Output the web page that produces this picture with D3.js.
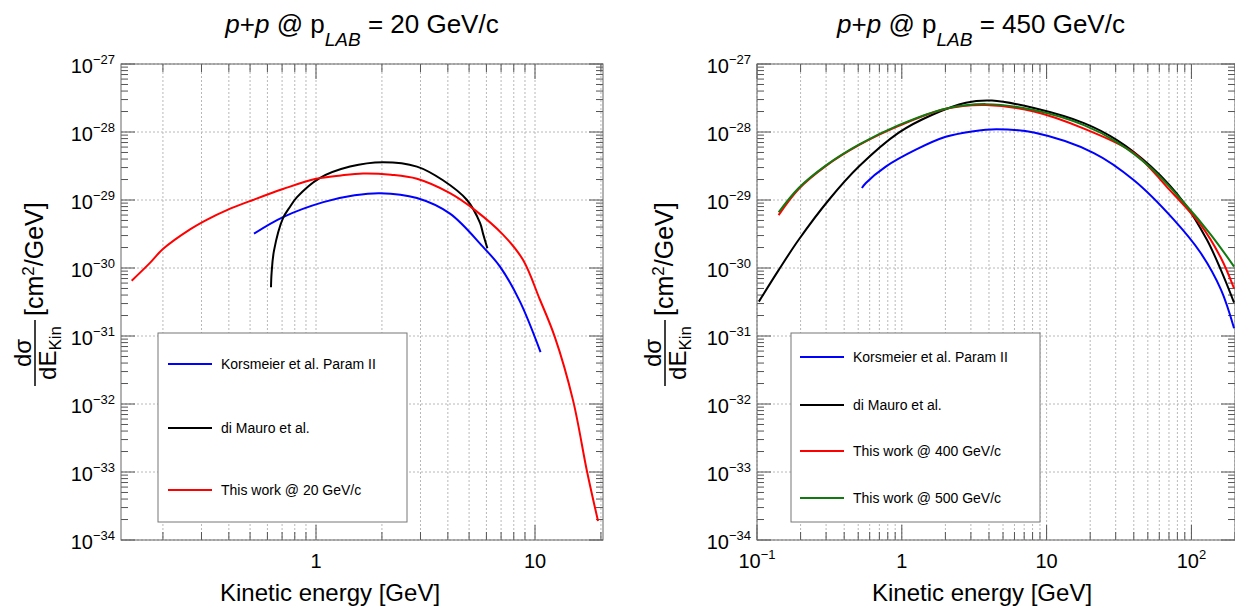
<!DOCTYPE html>
<html>
<head>
<meta charset="utf-8">
<script src="https://cdn.jsdelivr.net/npm/d3@7"></script>
<style>
body { margin: 0; background: #fff; }
text { font-family: "Liberation Sans", Arial, Helvetica, sans-serif; fill: #000; }
</style>
</head>
<body>
<div id="chart"></div>
<script>
// ---- data (kinetic energy in GeV, d sigma / dE in cm^2/GeV)
// p+p @ 20 GeV/c
var ekinKors20 = [0.521, 0.707, 1.08, 1.5, 1.96, 2.89, 4.09, 5.79, 6.92, 8.54, 10.6];
var xsKors20   = [3.2e-30, 5.6e-30, 9.3e-30, 1.17e-29, 1.26e-29, 1.07e-29, 6.3e-30, 2.04e-30, 1.05e-30, 3.2e-31, 5.8e-32];
var ekinMauro20 = [0.623, 0.627, 0.643, 0.707, 0.76, 0.819, 1.04, 1.43, 2.02, 2.89, 3.80, 4.89, 5.61, 5.79, 6.06];
var xsMauro20   = [5.2e-31, 8.5e-31, 1.8e-30, 5.4e-30, 7.9e-30, 1.1e-29, 2.1e-29, 3.1e-29, 3.6e-29, 3.1e-29, 1.95e-29, 1.0e-29, 4.6e-30, 3.2e-30, 1.95e-30];
var ekinWork20 = [0.144, 0.175, 0.2, 0.266, 0.32, 0.392, 0.515, 0.707, 1.0, 1.3, 1.64, 2.2, 2.89, 4.09, 5.32, 7.14, 8.81, 10.5, 12.3, 14.9, 17.3, 19.4];
var xsWork20   = [6.5e-31, 1.2e-30, 1.9e-30, 3.7e-30, 5.2e-30, 7.1e-30, 1.0e-29, 1.45e-29, 2.05e-29, 2.3e-29, 2.45e-29, 2.35e-29, 2.05e-29, 1.26e-29, 7.1e-30, 3.1e-30, 1.32e-30, 3.5e-31, 9.8e-32, 1.15e-32, 1.0e-33, 1.9e-34];

// p+p @ 450 GeV/c
var ekinKors450 = [0.530, 0.565, 0.775, 1.25, 2.01, 3.05, 4.5, 8.17, 21.2, 40.1, 75.8, 116, 160, 197];
var xsKors450   = [1.5e-29, 1.78e-29, 3.1e-29, 5.5e-29, 8.5e-29, 1.02e-28, 1.1e-28, 9.8e-29, 4.9e-29, 1.95e-29, 5.1e-30, 1.66e-30, 4.8e-31, 1.3e-31];
var ekinMauro450 = [0.103, 0.141, 0.194, 0.313, 0.505, 0.953, 1.61, 2.77, 4.19, 8.17, 18.1, 30.6, 52.6, 88.9, 128, 160, 197];
var xsMauro450   = [3.2e-31, 9.3e-31, 2.6e-30, 1.0e-29, 3.1e-29, 9.8e-29, 1.78e-28, 2.7e-28, 2.9e-28, 2.25e-28, 1.35e-28, 7.6e-29, 3.1e-29, 9.1e-30, 2.6e-30, 9.3e-31, 3.1e-31];
var ekinWork400 = [0.141, 0.194, 0.298, 0.505, 0.953, 2.01, 3.80, 8.17, 18.1, 40.1, 67.8, 116, 160, 197];
var xsWork400   = [6.0e-30, 1.45e-29, 3.15e-29, 6.4e-29, 1.23e-28, 2.2e-28, 2.5e-28, 2.0e-28, 1.12e-28, 4.9e-29, 1.55e-29, 4.3e-30, 1.4e-30, 5.0e-31];
var ekinWork500 = [0.141, 0.194, 0.298, 0.505, 0.953, 2.01, 3.80, 8.17, 18.1, 30.6, 52.6, 88.9, 136, 197];
var xsWork500   = [6.6e-30, 1.5e-29, 3.2e-29, 6.5e-29, 1.26e-28, 2.2e-28, 2.57e-28, 2.1e-28, 1.26e-28, 7.1e-29, 2.95e-29, 9.1e-30, 3.1e-30, 1.05e-30];

var yExponents = [-34, -33, -32, -31, -30, -29, -28, -27];
var xLabels20  = [[1, "1", ""], [10, "10", ""]];
var xLabels450 = [[0.1, "10", "\u22121"], [1, "1", ""], [10, "10", ""], [100, "10", "2"]];
var legend20  = ["Korsmeier et al. Param II", "di Mauro et al.", "This work @ 20 GeV/c"];
var legend450 = ["Korsmeier et al. Param II", "di Mauro et al.", "This work @ 400 GeV/c", "This work @ 500 GeV/c"];

var W = 1235, H = 606;
var plotTop = 64, plotBottom = 540;
var colBlue = "#0000ff", colBlack = "#000000", colRed = "#ff0000", colGreen = "#107a10";

var svg = d3.select("#chart").append("svg")
  .attr("width", W).attr("height", H)
  .style("background", "#fff");

function zip(xs, ys) { return xs.map(function (d, i) { return [d, ys[i]]; }); }

function drawPanel(p, idx) {
  var x = d3.scaleLog().domain(p.xDomain).range([p.left, p.right]);
  var y = d3.scaleLog().domain([1e-34, 1e-27]).range([plotBottom, plotTop]);
  var g = svg.append("g");

  // all log ticks inside the x domain
  var xt = [];
  for (var d = -2; d <= 3; d++) {
    for (var k = 1; k <= 9; k++) {
      var v = k * Math.pow(10, d);
      if (v >= p.xDomain[0] * 0.999 && v <= p.xDomain[1] * 1.001) xt.push({v: v, major: k === 1});
    }
  }
  var yt = [];
  yExponents.forEach(function (e) {
    for (var k = 1; k <= 9; k++) {
      if (e === -27 && k > 1) continue;
      yt.push({v: k * Math.pow(10, e), major: k === 1});
    }
  });

  // grid
  g.selectAll(".gx").data(xt).enter().append("line")
    .attr("x1", function (d) { return x(d.v); }).attr("x2", function (d) { return x(d.v); })
    .attr("y1", plotTop).attr("y2", plotBottom)
    .attr("stroke", "#b8b8b8").attr("stroke-width", 1).attr("stroke-dasharray", "2,2");
  g.selectAll(".gy").data(yExponents).enter().append("line")
    .attr("x1", p.left).attr("x2", p.right)
    .attr("y1", function (e) { return y(Math.pow(10, e)); }).attr("y2", function (e) { return y(Math.pow(10, e)); })
    .attr("stroke", "#b8b8b8").attr("stroke-width", 1).attr("stroke-dasharray", "2,2");

  // ticks
  var tc = "#555";
  xt.forEach(function (t) {
    var L = t.major ? 15 : 8;
    g.append("line").attr("x1", x(t.v)).attr("x2", x(t.v)).attr("y1", plotBottom).attr("y2", plotBottom - L).attr("stroke", tc);
    g.append("line").attr("x1", x(t.v)).attr("x2", x(t.v)).attr("y1", plotTop).attr("y2", plotTop + L).attr("stroke", tc);
  });
  yt.forEach(function (t) {
    var L = t.major ? 14 : 7;
    g.append("line").attr("x1", p.left).attr("x2", p.left + L).attr("y1", y(t.v)).attr("y2", y(t.v)).attr("stroke", tc);
    g.append("line").attr("x1", p.right).attr("x2", p.right - L).attr("y1", y(t.v)).attr("y2", y(t.v)).attr("stroke", tc);
  });

  // frame
  g.append("rect").attr("x", p.left).attr("y", plotTop)
    .attr("width", p.right - p.left).attr("height", plotBottom - plotTop)
    .attr("fill", "none").attr("stroke", "#666").attr("stroke-width", 1);

  // y labels
  yExponents.forEach(function (e) {
    var t = g.append("text").attr("x", p.left - 6).attr("y", y(Math.pow(10, e)) + 9)
      .attr("text-anchor", "end").style("font-size", "20px");
    t.append("tspan").text("10");
    t.append("tspan").attr("dy", -9).style("font-size", "13px").text("\u2212" + (-e));
  });

  // x labels
  p.xLabels.forEach(function (l) {
    var t = g.append("text").attr("x", x(l[0])).attr("y", 568)
      .attr("text-anchor", "middle").style("font-size", "20px");
    t.append("tspan").text(l[1]);
    if (l[2]) t.append("tspan").attr("dy", -9).style("font-size", "13px").text(l[2]);
  });

  // curves
  var clipId = "clip" + idx;
  svg.append("clipPath").attr("id", clipId).append("rect")
    .attr("x", p.left).attr("y", plotTop).attr("width", p.right - p.left).attr("height", plotBottom - plotTop);
  var line = d3.line().curve(d3.curveCatmullRom.alpha(0.5))
    .x(function (d) { return x(d[0]); }).y(function (d) { return y(d[1]); });
  var cg = g.append("g").attr("clip-path", "url(#" + clipId + ")");
  p.series.forEach(function (s) {
    cg.append("path").datum(zip(s.e, s.v)).attr("d", line)
      .attr("fill", "none").attr("stroke", s.color).attr("stroke-width", 2);
  });

  // legend
  var lg = p.legend;
  g.append("rect").attr("x", lg.x0).attr("y", lg.y0).attr("width", lg.x1 - lg.x0).attr("height", lg.y1 - lg.y0)
    .attr("fill", "#fff").attr("stroke", "#777").attr("stroke-width", 1);
  lg.labels.forEach(function (name, i) {
    var yy = lg.rows[i];
    g.append("line").attr("x1", lg.lx0).attr("x2", lg.lx1).attr("y1", yy).attr("y2", yy)
      .attr("stroke", lg.colors[i]).attr("stroke-width", 2);
    g.append("text").attr("x", lg.tx).attr("y", yy + 5).style("font-size", "14px").text(name);
  });

  // title
  var tt = svg.append("text").attr("x", p.titleX).attr("y", 33).attr("text-anchor", "middle").style("font-size", "26px");
  tt.append("tspan").style("font-style", "italic").text("p");
  tt.append("tspan").text("+");
  tt.append("tspan").style("font-style", "italic").text("p");
  tt.append("tspan").text(" @ p");
  tt.append("tspan").attr("dy", 13).style("font-style", "italic").style("font-size", "19px").text("LAB");
  tt.append("tspan").attr("dy", -13).text(" = " + p.plab + " GeV/c");

  // x title
  svg.append("text").attr("x", p.xTitleX).attr("y", 601).attr("text-anchor", "middle")
    .style("font-size", "24px").text("Kinetic energy [GeV]");

  // y title: d sigma / dE_Kin [cm^2/GeV]
  var yg = svg.append("g").attr("transform", "translate(" + p.yTitleX + ",300) rotate(-90)");
  yg.append("text").attr("x", -53).attr("y", -4).attr("text-anchor", "middle").style("font-size", "24px").text("d\u03c3");
  var den = yg.append("text").attr("x", -53).attr("y", 21).attr("text-anchor", "middle").style("font-size", "24px");
  den.append("tspan").text("dE");
  den.append("tspan").attr("dy", 5).style("font-size", "17px").text("Kin");
  yg.append("line").attr("x1", -86).attr("x2", -20).attr("y1", 0).attr("y2", 0).attr("stroke", "#000").attr("stroke-width", 1.5);
  var br = yg.append("text").attr("x", -16).attr("y", 8).style("font-size", "25px");
  br.append("tspan").text("[cm");
  br.append("tspan").attr("dy", -9).style("font-size", "17px").text("2");
  br.append("tspan").attr("dy", 9).text("/GeV]");
}

drawPanel({
  left: 121, right: 603, xDomain: [0.1287, 20.44], xLabels: xLabels20,
  titleX: 362, plab: "20", xTitleX: 330, yTitleX: 35,
  series: [
    {e: ekinKors20, v: xsKors20, color: colBlue},
    {e: ekinMauro20, v: xsMauro20, color: colBlack},
    {e: ekinWork20, v: xsWork20, color: colRed}
  ],
  legend: {x0: 158, x1: 407, y0: 333, y1: 522, lx0: 168, lx1: 212, tx: 221,
    rows: [364, 428, 490], labels: legend20, colors: [colBlue, colBlack, colRed]}
}, 0);

drawPanel({
  left: 757, right: 1235, xDomain: [0.1, 200], xLabels: xLabels450,
  titleX: 981, plab: "450", xTitleX: 982, yTitleX: 665,
  series: [
    {e: ekinMauro450, v: xsMauro450, color: colBlack},
    {e: ekinKors450, v: xsKors450, color: colBlue},
    {e: ekinWork400, v: xsWork400, color: colRed},
    {e: ekinWork500, v: xsWork500, color: colGreen}
  ],
  legend: {x0: 791, x1: 1040, y0: 333, y1: 522, lx0: 800, lx1: 844, tx: 853,
    rows: [357, 405, 451, 498], labels: legend450, colors: [colBlue, colBlack, colRed, colGreen]}
}, 1);
</script>
</body>
</html>
